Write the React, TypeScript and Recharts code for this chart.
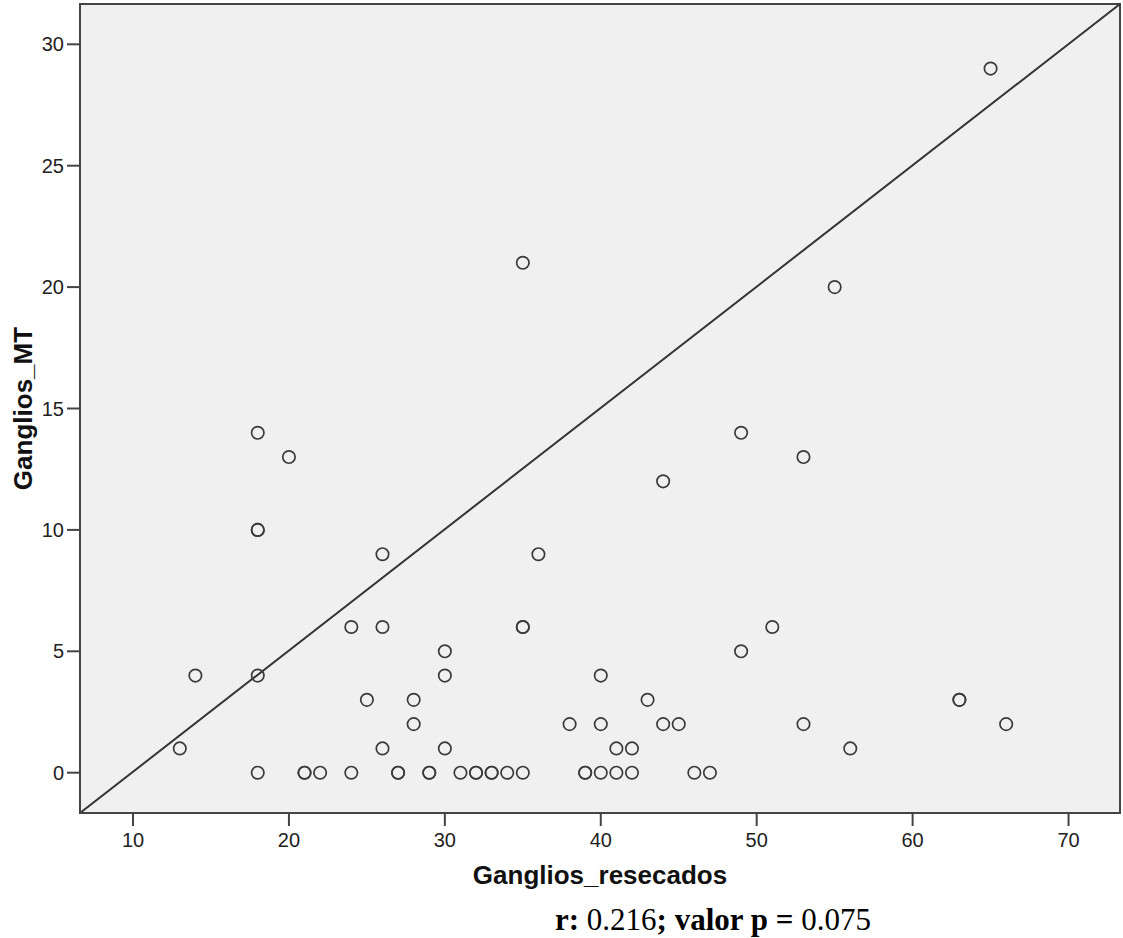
import {
  ScatterChart,
  Scatter,
  XAxis,
  YAxis,
  CartesianGrid,
  ReferenceArea,
  ReferenceLine,
  Label,
} from "recharts"

// Ganglios_resecados (x) and Ganglios_MT (y), one entry per patient
const resecados = [
  13, 14, 18, 18, 18, 18, 18, 20, 21, 21, 22, 24, 24, 25, 26, 26, 26, 27, 27, 28,
  28, 29, 29, 30, 30, 30, 31, 32, 32, 33, 33, 34, 35, 35, 35, 35, 36, 38, 39, 39,
  40, 40, 40, 41, 41, 42, 42, 43, 44, 44, 45, 46, 47, 49, 49, 51, 53, 53, 55, 56,
  63, 63, 65, 66,
]
const metastasicos = [
  1, 4, 14, 10, 10, 4, 0, 13, 0, 0, 0, 6, 0, 3, 9, 6, 1, 0, 0, 3,
  2, 0, 0, 5, 4, 1, 0, 0, 0, 0, 0, 0, 0, 21, 6, 6, 9, 2, 0, 0,
  4, 2, 0, 1, 0, 1, 0, 3, 12, 2, 2, 0, 0, 14, 5, 6, 13, 2, 20, 1,
  3, 3, 29, 2,
]

const xTicks = [10, 20, 30, 40, 50, 60, 70]
const yTicks = [0, 5, 10, 15, 20, 25, 30]
const xDomain = [6.6, 73.3]
const yDomain = [-1.66, 31.66]

const data = resecados.map((x, i) => ({ x, y: metastasicos[i] }))

const tickStyle = { fontFamily: "Liberation Sans, Arial", fontSize: 20, fill: "#222" }

const Ring = (props: any) => (
  <circle cx={props.cx} cy={props.cy} r={6.2} fill="none" stroke="#3a3a3a" strokeWidth={1.7} />
)

export default function App() {
  return (
    <div style={{ position: "absolute", left: 0, top: 0, width: 1123, height: 938, background: "#fff" }}>
      <ScatterChart width={1123} height={938} margin={{ top: 4, right: 3, left: 0, bottom: 0 }}>
        <CartesianGrid fill="#f0f0f0" horizontal={false} vertical={false} />
        <XAxis
          type="number"
          dataKey="x"
          domain={xDomain}
          ticks={xTicks}
          allowDataOverflow
          height={125}
          tickSize={13}
          tickMargin={7}
          tick={tickStyle}
          stroke="#444"
          strokeWidth={2}
        >
          <Label
            value="Ganglios_resecados"
            position="insideTop"
            offset={53}
            style={{ fontFamily: "Liberation Sans, Arial", fontSize: 26, fontWeight: "bold", fill: "#111" }}
          />
        </XAxis>
        <YAxis
          type="number"
          dataKey="y"
          domain={yDomain}
          ticks={yTicks}
          allowDataOverflow
          width={80}
          tickSize={13}
          tickMargin={3}
          tick={tickStyle}
          stroke="#444"
          strokeWidth={2}
        >
          <Label
            value="Ganglios_MT"
            angle={-90}
            position="insideLeft"
            offset={23}
            style={{
              textAnchor: "middle",
              fontFamily: "Liberation Sans, Arial",
              fontSize: 26,
              fontWeight: "bold",
              fill: "#111",
            }}
          />
        </YAxis>
        <ReferenceArea
          x1={xDomain[0]}
          x2={xDomain[1]}
          y1={yDomain[0]}
          y2={yDomain[1]}
          fill="none"
          fillOpacity={0}
          stroke="#444"
          strokeWidth={2}
        />
        <ReferenceLine
          segment={[
            { x: xDomain[0], y: yDomain[0] },
            { x: xDomain[1], y: yDomain[1] },
          ]}
          stroke="#333"
          strokeWidth={2}
        />
        <Scatter data={data} shape={Ring} isAnimationActive={false} />
      </ScatterChart>
      <svg width={1123} height={938} style={{ position: "absolute", left: 0, top: 0, pointerEvents: "none" }}>
        <text x={555} y={930} fontFamily="Liberation Serif, Times New Roman" fontSize={31} fill="#000">
          <tspan fontWeight="bold">r: </tspan>
          <tspan>0.216</tspan>
          <tspan fontWeight="bold">; valor p = </tspan>
          <tspan>0.075</tspan>
        </text>
      </svg>
    </div>
  )
}
